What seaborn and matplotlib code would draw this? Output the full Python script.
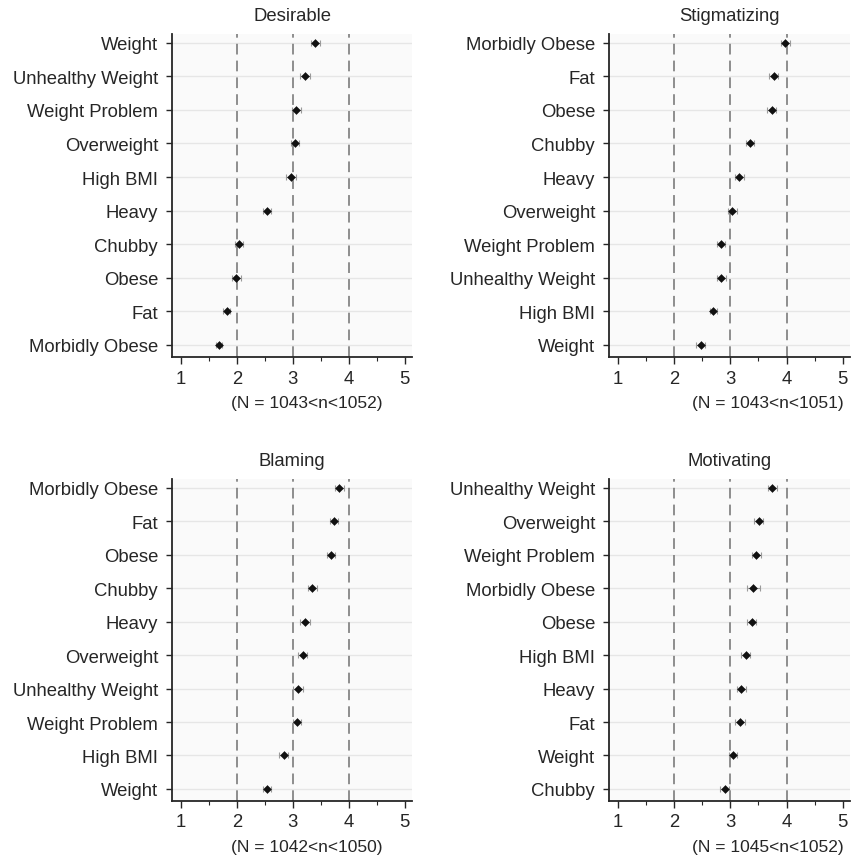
import numpy as np
import pandas as pd
import matplotlib
matplotlib.use("Agg")
import matplotlib.pyplot as plt
import seaborn as sns
from matplotlib.ticker import MultipleLocator

# ---- data ----
desirable_terms = ["Weight", "Unhealthy Weight", "Weight Problem", "Overweight", "High BMI",
                   "Heavy", "Chubby", "Obese", "Fat", "Morbidly Obese"]
desirable_mean = [3.40, 3.21, 3.06, 3.04, 2.96, 2.54, 2.04, 1.99, 1.82, 1.68]
desirable_ci = [0.08, 0.09, 0.08, 0.07, 0.09, 0.07, 0.07, 0.08, 0.06, 0.06]

stigmatizing_terms = ["Morbidly Obese", "Fat", "Obese", "Chubby", "Heavy", "Overweight",
                      "Weight Problem", "Unhealthy Weight", "High BMI", "Weight"]
stigmatizing_mean = [3.98, 3.77, 3.74, 3.35, 3.16, 3.03, 2.84, 2.84, 2.70, 2.47]
stigmatizing_ci = [0.08, 0.08, 0.08, 0.08, 0.08, 0.08, 0.07, 0.08, 0.07, 0.08]

blaming_terms = ["Morbidly Obese", "Fat", "Obese", "Chubby", "Heavy", "Overweight",
                 "Unhealthy Weight", "Weight Problem", "High BMI", "Weight"]
blaming_mean = [3.83, 3.74, 3.68, 3.35, 3.21, 3.18, 3.09, 3.07, 2.84, 2.54]
blaming_ci = [0.08, 0.07, 0.07, 0.08, 0.09, 0.08, 0.09, 0.07, 0.08, 0.07]

motivating_terms = ["Unhealthy Weight", "Overweight", "Weight Problem", "Morbidly Obese", "Obese",
                    "High BMI", "Heavy", "Fat", "Weight", "Chubby"]
motivating_mean = [3.75, 3.51, 3.46, 3.41, 3.38, 3.27, 3.19, 3.17, 3.04, 2.90]
motivating_ci = [0.08, 0.08, 0.08, 0.11, 0.08, 0.08, 0.08, 0.09, 0.07, 0.08]

titles = ["Desirable", "Stigmatizing", "Blaming", "Motivating"]
n_labels = ["(N = 1043<n<1052)", "(N = 1043<n<1051)", "(N = 1042<n<1050)", "(N = 1045<n<1052)"]
x_ticks = [1, 2, 3, 4, 5]
ref_lines = [2, 3, 4]

panels = [
    (desirable_terms, desirable_mean, desirable_ci),
    (stigmatizing_terms, stigmatizing_mean, stigmatizing_ci),
    (blaming_terms, blaming_mean, blaming_ci),
    (motivating_terms, motivating_mean, motivating_ci),
]

# ---- style ----
sns.set_theme(style="white")
plt.rcParams['font.family'] = ['Liberation Sans', 'DejaVu Sans']

W, H = 855, 862
fig = plt.figure(figsize=(W / 100, H / 100), dpi=100)

# axes boxes in pixel coords: (left, top, right, bottom)
boxes = [(172, 35, 412, 358), (609, 35, 850, 358), (172, 480, 412, 802), (609, 480, 850, 802)]
xlabel_pos = [0.56, 0.66, 0.56, 0.66]
txt = "#262626"

for i, ((terms, means, cis), box) in enumerate(zip(panels, boxes)):
    l, t, r, b = box
    ax = fig.add_axes([l / W, 1 - b / H, (r - l) / W, (b - t) / H])
    ax.set_facecolor("#fafafa")
    df = pd.DataFrame({"term": terms, "mean": means, "ci": cis, "pos": np.arange(len(terms))})

    for yv in df["pos"]:
        ax.axhline(yv, color="#e6e6e6", lw=1.0, zorder=0)
    for xv in ref_lines:
        ax.axvline(xv, color="#707070", lw=1.1, ls=(0, (7, 4)), zorder=1)

    ax.errorbar(df["mean"], df["pos"], xerr=df["ci"], fmt="none", ecolor="#9a9a9a",
                elinewidth=0.8, capsize=2.2, capthick=0.8, zorder=2)
    sns.scatterplot(data=df, x="mean", y="pos", ax=ax, marker="D", s=16,
                    color="#111111", edgecolor="#111111", linewidth=0.4, zorder=3, legend=False)

    ax.set_xlim(0.84, 5.13)
    ax.set_ylim(9.36, -0.26)
    ax.set_yticks(df["pos"])
    ax.set_yticklabels(terms, fontsize=13.3, color=txt)
    ax.set_xticks(x_ticks)
    ax.set_xticklabels([str(v) for v in x_ticks], fontsize=13.3, color=txt)
    ax.xaxis.set_minor_locator(MultipleLocator(0.5))
    ax.tick_params(axis="y", which="major", direction="out", length=4, width=1, color=txt, pad=6, left=True)
    ax.tick_params(axis="x", which="major", direction="out", length=5, width=1, color=txt, pad=4, bottom=True)
    ax.tick_params(axis="x", which="minor", direction="out", length=3, width=0.8, color=txt, bottom=True)
    for s in ["top", "right"]:
        ax.spines[s].set_visible(False)
    for s in ["left", "bottom"]:
        ax.spines[s].set_visible(True)
        ax.spines[s].set_color(txt)
        ax.spines[s].set_linewidth(1.3)
    ax.set_ylabel("")
    ax.set_xlabel("")
    ax.set_title(titles[i], fontsize=13.3, color=txt, pad=10)
    ax.text(xlabel_pos[i], -0.118, n_labels[i], transform=ax.transAxes, ha="center", va="top",
            fontsize=12.5, color=txt)

fig.savefig("out.png", dpi=100, facecolor="white")
